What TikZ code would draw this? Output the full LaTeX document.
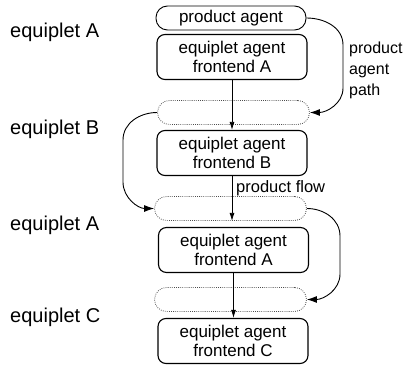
\documentclass[tikz,border=0pt]{standalone}
\usepackage{fontspec}
\setmainfont{Liberation Sans}
\usetikzlibrary{arrows.meta,calc}
\begin{document}
\begin{tikzpicture}[x=1pt,y=1pt,
  box/.style={draw, line width=1.1pt, rounded corners=8pt, minimum width=150pt, minimum height=45pt, align=center, inner sep=0pt, font=\fontsize{17}{19}\selectfont},
  pill/.style={draw, line width=0.9pt, rounded corners=11.5pt, minimum width=150pt, minimum height=24pt, inner sep=0pt, font=\fontsize{17}{19}\selectfont},
  slot/.style={draw, gray!60!black, line width=0.8pt, dash pattern=on 0.8pt off 1.3pt, rounded corners=12pt, minimum width=152pt, minimum height=24pt, inner sep=0pt},
  eqlabel/.style={anchor=base west, inner sep=0pt, font=\fontsize{20}{24}\selectfont},
  flow/.style={-{Latex[length=8pt,width=5pt]}, line width=0.8pt},
  patharrow/.style={-{Latex[length=10pt,width=7pt]}, line width=0.9pt},
]
\useasboundingbox (0,0) rectangle (406,-366);

\node[pill] (pa) at (231,-18) {product agent};
\node[box] (fa1) at (232,-57) {equiplet agent\\frontend A};
\node[slot] (d1) at (233.5,-112.5) {};
\node[box] (fb) at (232,-153) {equiplet agent\\frontend B};
\node[slot] (d2) at (230.5,-208.5) {};
\node[box] (fa2) at (233.5,-250) {equiplet agent\\frontend A};
\node[slot] (d3) at (230.5,-299.5) {};
\node[box] (fc) at (233,-341) {equiplet agent\\frontend C};

\node[eqlabel] (lA1) at (10,-38) {equiplet A};
\node[eqlabel] (lB) at (10,-135) {equiplet B};
\node[eqlabel] (lA2) at (10,-230) {equiplet A};
\node[eqlabel] (lC) at (10,-322) {equiplet C};

\draw[flow] (fa1.south) -- (fb.north);
\draw[flow] (fb.south) -- (fb.south |- d2.south);
\draw[flow] (fa2.south) -- (fa2.south |- fc.north);

\node[anchor=west, inner sep=0pt, font=\fontsize{16.5}{19}\selectfont] (pf) at (236,-188) {product flow};

\node[anchor=north west, align=left, inner sep=0pt, font=\fontsize{16}{21}\selectfont] (pap) at (349,-41.5) {product\\agent\\path};

\draw[patharrow] (pa.east) to[out=0,in=90] (343,-45) -- (343,-88) to[out=-90,in=0] (d1.east);
\draw[patharrow] (d1.west) to[out=180,in=90] (123,-140) -- (123,-182) to[out=-90,in=180] (d2.west);
\draw[patharrow] (d2.east) to[out=0,in=90] (340,-236) -- (340,-274) to[out=-90,in=0] (d3.east);
\end{tikzpicture}
\end{document}
